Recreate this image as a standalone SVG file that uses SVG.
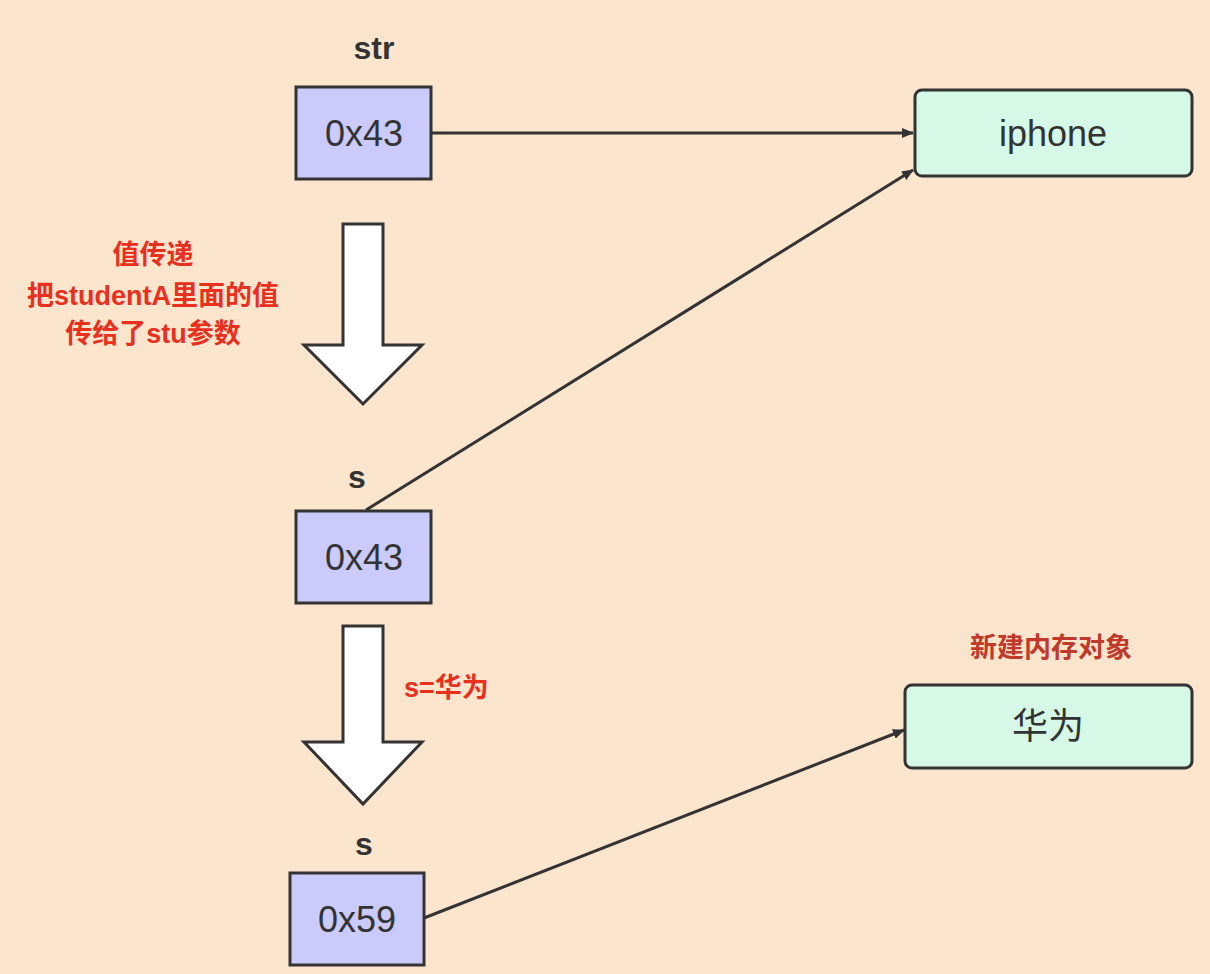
<svg xmlns="http://www.w3.org/2000/svg" width="1210" height="974" viewBox="0 0 1210 974">
<style>
.t{font-family:"Liberation Sans","Noto Sans CJK SC",sans-serif}
.lbl{font-size:32px;font-weight:bold;fill:#333;text-anchor:middle}
.ptr{fill:#cbcbfb;stroke:#333;stroke-width:3}
.obj{fill:#d6f8e6;stroke:#333;stroke-width:3}
.val{font-size:36px;fill:#333;text-anchor:middle}
.red{font-size:27px;font-weight:bold;fill:#e8301e;text-anchor:middle}
.big{fill:#fff;stroke:#333;stroke-width:3}
.ln{stroke:#333;stroke-width:3;fill:none;marker-end:url(#ah)}
</style>
<defs><marker id="ah" markerWidth="12" markerHeight="10" refX="11" refY="5" orient="auto" markerUnits="userSpaceOnUse" viewBox="0 0 12 10"><path d="M0,0L12,5L0,10Z" fill="#333"/></marker></defs>
<rect width="1210" height="974" fill="#fbe5cd"/>
<g id="connectors">
<path class="ln" d="M431,133L913,133"/>
<path class="ln" d="M366,510L913,170"/>
<path class="ln" d="M424,918L904,730"/>
<path class="big" d="M343,224H383V345H422L363,404L304,345H343Z"/>
<path class="big" d="M343,626H383V742H422L363,804L304,742H343Z"/>
</g>
<g id="str"><text class="t lbl" x="374" y="59">str</text><rect class="ptr" x="296" y="87" width="135" height="92"/><text class="t val" x="364" y="146">0x43</text></g>
<g id="iphone"><rect class="obj" x="915" y="90" width="277" height="86" rx="7"/><text class="t val" x="1053" y="146">iphone</text></g>
<g id="note1"><text class="t red" x="153" y="264">值传递</text><text class="t red" x="153" y="305">把studentA里面的值</text><text class="t red" x="153" y="343">传给了stu参数</text></g>
<g id="s1"><text class="t lbl" x="357" y="488">s</text><rect class="ptr" x="296" y="511" width="135" height="92"/><text class="t val" x="364" y="570">0x43</text></g>
<g id="note2"><text class="t red" x="404" y="697" style="text-anchor:start">s=华为</text></g>
<g id="s2"><text class="t lbl" x="364" y="855">s</text><rect class="ptr" x="290" y="873" width="134" height="92"/><text class="t val" x="357" y="932">0x59</text></g>
<g id="note3"><text class="t red" x="1051" y="657" style="fill:#c0392b">新建内存对象</text></g>
<g id="huawei"><rect class="obj" x="905" y="685" width="287" height="83" rx="7"/><text class="t val" x="1048" y="739">华为</text></g>
</svg>
